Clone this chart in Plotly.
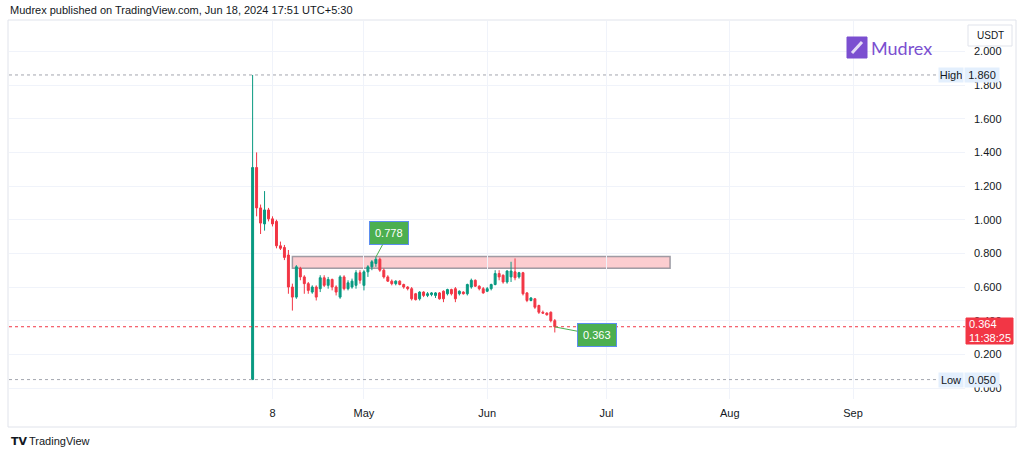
import plotly.graph_objects as go
import pandas as pd

# ---------------- data (daily candles, USDT) ----------------
dates = pd.date_range("2024-04-03", "2024-06-18", freq="D")
opens = [0.05, 1.31, 1.07, 0.975, 1.058, 1.005, 0.99, 0.845, 0.835, 0.79, 0.60, 0.54, 0.71, 0.66, 0.62, 0.57,
         0.60, 0.59, 0.655, 0.61, 0.645, 0.60, 0.54, 0.66, 0.59, 0.60, 0.61, 0.685,
         0.61, 0.69, 0.72, 0.74, 0.765, 0.70, 0.66, 0.635, 0.62, 0.635, 0.615, 0.60, 0.59, 0.56, 0.53, 0.57,
         0.55, 0.555, 0.55, 0.565, 0.575, 0.56, 0.585, 0.59, 0.56, 0.57, 0.56, 0.60, 0.64, 0.605, 0.59,
         0.575, 0.59, 0.615, 0.68, 0.67, 0.63, 0.66, 0.69, 0.66, 0.685, 0.565, 0.52, 0.53, 0.49, 0.45, 0.445, 0.45, 0.40]
highs = [1.86, 1.40, 1.09, 1.17, 1.07, 1.02, 1.00, 0.87, 0.85, 0.82, 0.62, 0.73, 0.72, 0.67, 0.63, 0.61,
         0.61, 0.67, 0.67, 0.66, 0.65, 0.61, 0.67, 0.67, 0.64, 0.65, 0.70, 0.70,
         0.70, 0.73, 0.76, 0.778, 0.775, 0.71, 0.67, 0.645, 0.64, 0.64, 0.62, 0.605, 0.60, 0.565, 0.575, 0.575,
         0.57, 0.57, 0.57, 0.57, 0.58, 0.59, 0.59, 0.60, 0.58, 0.575, 0.62, 0.65, 0.645, 0.61, 0.60,
         0.60, 0.62, 0.70, 0.70, 0.675, 0.70, 0.75, 0.77, 0.69, 0.69, 0.57, 0.54, 0.535, 0.495, 0.46, 0.45, 0.455, 0.41]
lows = [0.05, 1.02, 0.915, 0.935, 0.99, 0.96, 0.83, 0.82, 0.76, 0.56, 0.46, 0.53, 0.64, 0.56, 0.56, 0.56,
        0.52, 0.57, 0.60, 0.59, 0.58, 0.55, 0.53, 0.58, 0.58, 0.59, 0.59, 0.62,
        0.58, 0.66, 0.70, 0.72, 0.69, 0.65, 0.63, 0.61, 0.61, 0.61, 0.59, 0.58, 0.52, 0.52, 0.52, 0.54,
        0.54, 0.545, 0.535, 0.525, 0.51, 0.55, 0.55, 0.51, 0.55, 0.555, 0.55, 0.59, 0.60, 0.58, 0.56,
        0.57, 0.58, 0.61, 0.64, 0.62, 0.62, 0.63, 0.64, 0.65, 0.55, 0.51, 0.515, 0.47, 0.44, 0.44, 0.43, 0.39, 0.33]
closes = [1.31, 1.07, 0.98, 1.058, 1.005, 0.975, 0.845, 0.83, 0.776, 0.60, 0.54, 0.72, 0.66, 0.62, 0.58, 0.60,
          0.54, 0.655, 0.61, 0.645, 0.60, 0.57, 0.66, 0.59, 0.625, 0.635, 0.685, 0.64,
          0.69, 0.72, 0.75, 0.765, 0.70, 0.66, 0.635, 0.62, 0.635, 0.615, 0.60, 0.59, 0.53, 0.525, 0.57, 0.55,
          0.56, 0.565, 0.565, 0.53, 0.53, 0.585, 0.56, 0.53, 0.575, 0.56, 0.615, 0.64, 0.605, 0.59, 0.565,
          0.59, 0.615, 0.68, 0.66, 0.63, 0.695, 0.695, 0.655, 0.685, 0.56, 0.52, 0.535, 0.48, 0.45, 0.445, 0.435, 0.40, 0.364]

price_ticks = [0.0, 0.2, 0.4, 0.6, 0.8, 1.0, 1.2, 1.4, 1.6, 1.8, 2.0]
time_tickvals = ["2024-04-08", "2024-05-01", "2024-06-01", "2024-07-01", "2024-08-01", "2024-09-01"]
time_ticktext = ["8", "May", "Jun", "Jul", "Aug", "Sep"]

high_value = 1.860
low_value = 0.050
last_price = 0.364
countdown = "11:38:25"
peak_label = ("2024-05-04", 0.778)
trough_label = ("2024-06-18", 0.363)
zone = ("2024-04-13", "2024-07-17", 0.712, 0.782)

# ---------------- layout geometry ----------------
FW, FH = 1024, 456
L, R, T, B = 9, 59, 21, 57
PW, PH = FW - L - R, FH - T - B

def xp(x):
    return (x - L) / PW

def yp(y):
    return (T + PH - y) / PH

ppd = 3.976  # pixels per day
left = pd.Timestamp("2024-04-08") - pd.Timedelta(days=(272.5 - L) / ppd)
right = left + pd.Timedelta(days=PW / ppd)
y0v = -(T + PH - 388) / 168.3
y1v = (388 - T) / 168.3

GREEN = "#089981"
RED = "#f23645"
FONT = "Liberation Sans Narrow, Liberation Sans, Arial, sans-serif"

fig = go.Figure()
fig.add_trace(go.Candlestick(
    x=dates, open=opens, high=highs, low=lows, close=closes,
    increasing=dict(line=dict(color=GREEN, width=1), fillcolor=GREEN),
    decreasing=dict(line=dict(color=RED, width=1), fillcolor=RED),
    whiskerwidth=0, showlegend=False, hoverinfo="skip",
))

shapes = []
# zone rectangle
shapes.append(dict(type="rect", xref="x", yref="y", x0=zone[0], x1=zone[1], y0=zone[2], y1=zone[3],
                   fillcolor="rgba(242,54,69,0.25)", line=dict(color="rgba(120,123,134,0.7)", width=1.5),
                   layer="below"))
# high / low / last price lines
for v in (high_value, low_value):
    shapes.append(dict(type="line", xref="paper", yref="y", x0=0, x1=xp(938), y0=v, y1=v,
                       line=dict(color="#a3a6af", width=1, dash="dot")))
shapes.append(dict(type="line", xref="paper", yref="y", x0=0, x1=1, y0=last_price, y1=last_price,
                   line=dict(color=RED, width=1, dash="dot")))
# frame
shapes.append(dict(type="rect", xref="paper", yref="paper", x0=xp(8), x1=xp(1016), y0=yp(427), y1=yp(20),
                   line=dict(color="#e0e3eb", width=1), fillcolor="rgba(0,0,0,0)", layer="below"))
# USDT box
shapes.append(dict(type="rect", xref="paper", yref="paper", x0=xp(968), x1=xp(1012), y0=yp(46), y1=yp(25),
                   line=dict(color="#e0e3eb", width=1), fillcolor="white"))
# Mudrex logo icon
shapes.append(dict(type="rect", xref="paper", yref="paper", x0=xp(847), x1=xp(867), y0=yp(58), y1=yp(37),
                   line=dict(color="#7b4fd0", width=1), fillcolor="#7b4fd0"))
shapes.append(dict(type="line", xref="paper", yref="paper", x0=xp(852), x1=xp(862), y0=yp(53), y1=yp(42),
                   line=dict(color="rgba(255,255,255,0.8)", width=3)))
# price label box
shapes.append(dict(type="rect", xref="paper", yref="paper", x0=xp(966), x1=xp(1013), y0=yp(344), y1=yp(318),
                   line=dict(color=RED, width=1), fillcolor=RED))

annotations = []
LB = "#e3effd"
for v, lab in [(high_value, "High"), (low_value, "Low")]:
    annotations.append(dict(xref="paper", yref="y", x=xp(951), y=v, text=lab, showarrow=False,
                            font=dict(family=FONT, size=11, color="#131722"), bgcolor=LB,
                            xanchor="center", yanchor="middle", borderpad=1, width=22))
    annotations.append(dict(xref="paper", yref="y", x=xp(982), y=v, text=f"{v:.3f}", showarrow=False,
                            font=dict(family=FONT, size=11, color="#131722"), bgcolor=LB,
                            xanchor="center", yanchor="middle", borderpad=1, width=32))
annotations.append(dict(xref="paper", yref="paper", x=xp(989.5), y=yp(331), text=f"{last_price:.3f}<br>{countdown}",
                        showarrow=False, font=dict(family=FONT, size=11, color="white"),
                        xanchor="center", yanchor="middle", align="left"))
annotations.append(dict(xref="paper", yref="paper", x=xp(990), y=yp(35.5), text="USDT", showarrow=False,
                        font=dict(family=FONT, size=10, color="#131722"), xanchor="center", yanchor="middle"))
annotations.append(dict(xref="paper", yref="paper", x=xp(869), y=yp(47.5), text="Mudrex", showarrow=False,
                        font=dict(family="Lato, Open Sans, sans-serif", size=18, color="#7b4fd0"),
                        xanchor="left", yanchor="middle"))
# callouts
annotations.append(dict(xref="x", yref="y", x=peak_label[0], y=peak_label[1], text=f"{peak_label[1]:.3f}",
                        showarrow=True, arrowhead=0, arrowwidth=1, arrowcolor="#4caf50", ax=13, ay=-24,
                        bgcolor="#4caf50", bordercolor="#5b8def", borderwidth=1, borderpad=5,
                        font=dict(family=FONT, size=11, color="white")))
annotations.append(dict(xref="x", yref="y", x=trough_label[0], y=trough_label[1], text=f"{trough_label[1]:.3f}",
                        showarrow=True, arrowhead=0, arrowwidth=1, arrowcolor="#4caf50", ax=42, ay=8,
                        bgcolor="#4caf50", bordercolor="#5b8def", borderwidth=1, borderpad=5,
                        font=dict(family=FONT, size=11, color="white")))
# header / footer
annotations.append(dict(xref="paper", yref="paper", x=xp(8), y=yp(10), text="Mudrex published on TradingView.com, Jun 18, 2024 17:51 UTC+5:30",
                        showarrow=False, font=dict(family=FONT, size=11, color="#131722"), xanchor="left", yanchor="middle"))
annotations.append(dict(xref="paper", yref="paper", x=xp(9), y=yp(441), text="<b>TV</b>",
                        showarrow=False, font=dict(family="DejaVu Sans, sans-serif", size=11, color="#131722"), xanchor="left", yanchor="middle"))
annotations.append(dict(xref="paper", yref="paper", x=xp(27), y=yp(441), text="TradingView",
                        showarrow=False, font=dict(family=FONT, size=11, color="#131722"), xanchor="left", yanchor="middle"))

fig.update_layout(
    width=FW, height=FH, margin=dict(l=L, r=R, t=T, b=B),
    paper_bgcolor="white", plot_bgcolor="white",
    boxgap=0.3,
    shapes=shapes, annotations=annotations,
    xaxis=dict(range=[left, right], rangeslider=dict(visible=False), showgrid=True, gridcolor="#f0f3fa",
               tickvals=time_tickvals, ticktext=time_ticktext, ticks="", zeroline=False, showline=False,
               tickfont=dict(family=FONT, size=11, color="#131722"), ticklabelstandoff=6, fixedrange=True),
    yaxis=dict(range=[y0v, y1v], side="right", showgrid=True, gridcolor="#f0f3fa", tickvals=price_ticks,
               tickformat=".3f", ticks="", zeroline=False, showline=False,
               tickfont=dict(family=FONT, size=11, color="#131722"), ticklabelstandoff=8, fixedrange=True),
)

fig.write_html("out.html")
